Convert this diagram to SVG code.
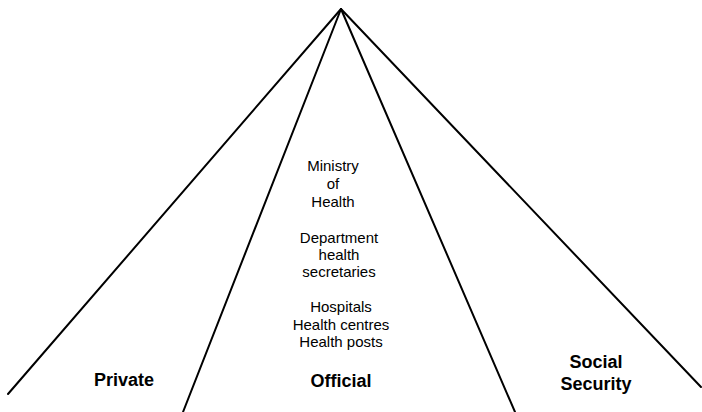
<svg xmlns="http://www.w3.org/2000/svg" width="702" height="412" viewBox="0 0 702 412">
<style>
.ln{stroke:#000;stroke-width:2;fill:none;stroke-linecap:round}
.t{font-family:"Liberation Sans",Arial,sans-serif;font-size:15px;fill:#000;text-anchor:middle}
.b{font-family:"Liberation Sans",Arial,sans-serif;font-size:18px;font-weight:bold;fill:#000;text-anchor:middle}
</style>
<rect width="702" height="412" fill="#fff"/>
<g id="connectors">
<line class="ln" x1="341" y1="9" x2="8" y2="394"/>
<line class="ln" x1="341" y1="9" x2="183" y2="412"/>
<line class="ln" x1="341" y1="9" x2="515" y2="412"/>
<line class="ln" x1="341" y1="9" x2="701" y2="387"/>
</g>
<g id="ministry">
<text class="t" x="333" y="171">Ministry</text>
<text class="t" x="333" y="189">of</text>
<text class="t" x="333" y="207">Health</text>
</g>
<g id="department">
<text class="t" x="339" y="243">Department</text>
<text class="t" x="339" y="260">health</text>
<text class="t" x="339" y="277">secretaries</text>
</g>
<g id="facilities">
<text class="t" x="341" y="312">Hospitals</text>
<text class="t" x="341" y="330">Health centres</text>
<text class="t" x="341" y="347">Health posts</text>
</g>
<g id="private"><text class="b" x="124" y="386">Private</text></g>
<g id="official"><text class="b" x="341" y="387">Official</text></g>
<g id="social"><text class="b" x="596" y="368">Social</text><text class="b" x="596" y="390">Security</text></g>
</svg>
